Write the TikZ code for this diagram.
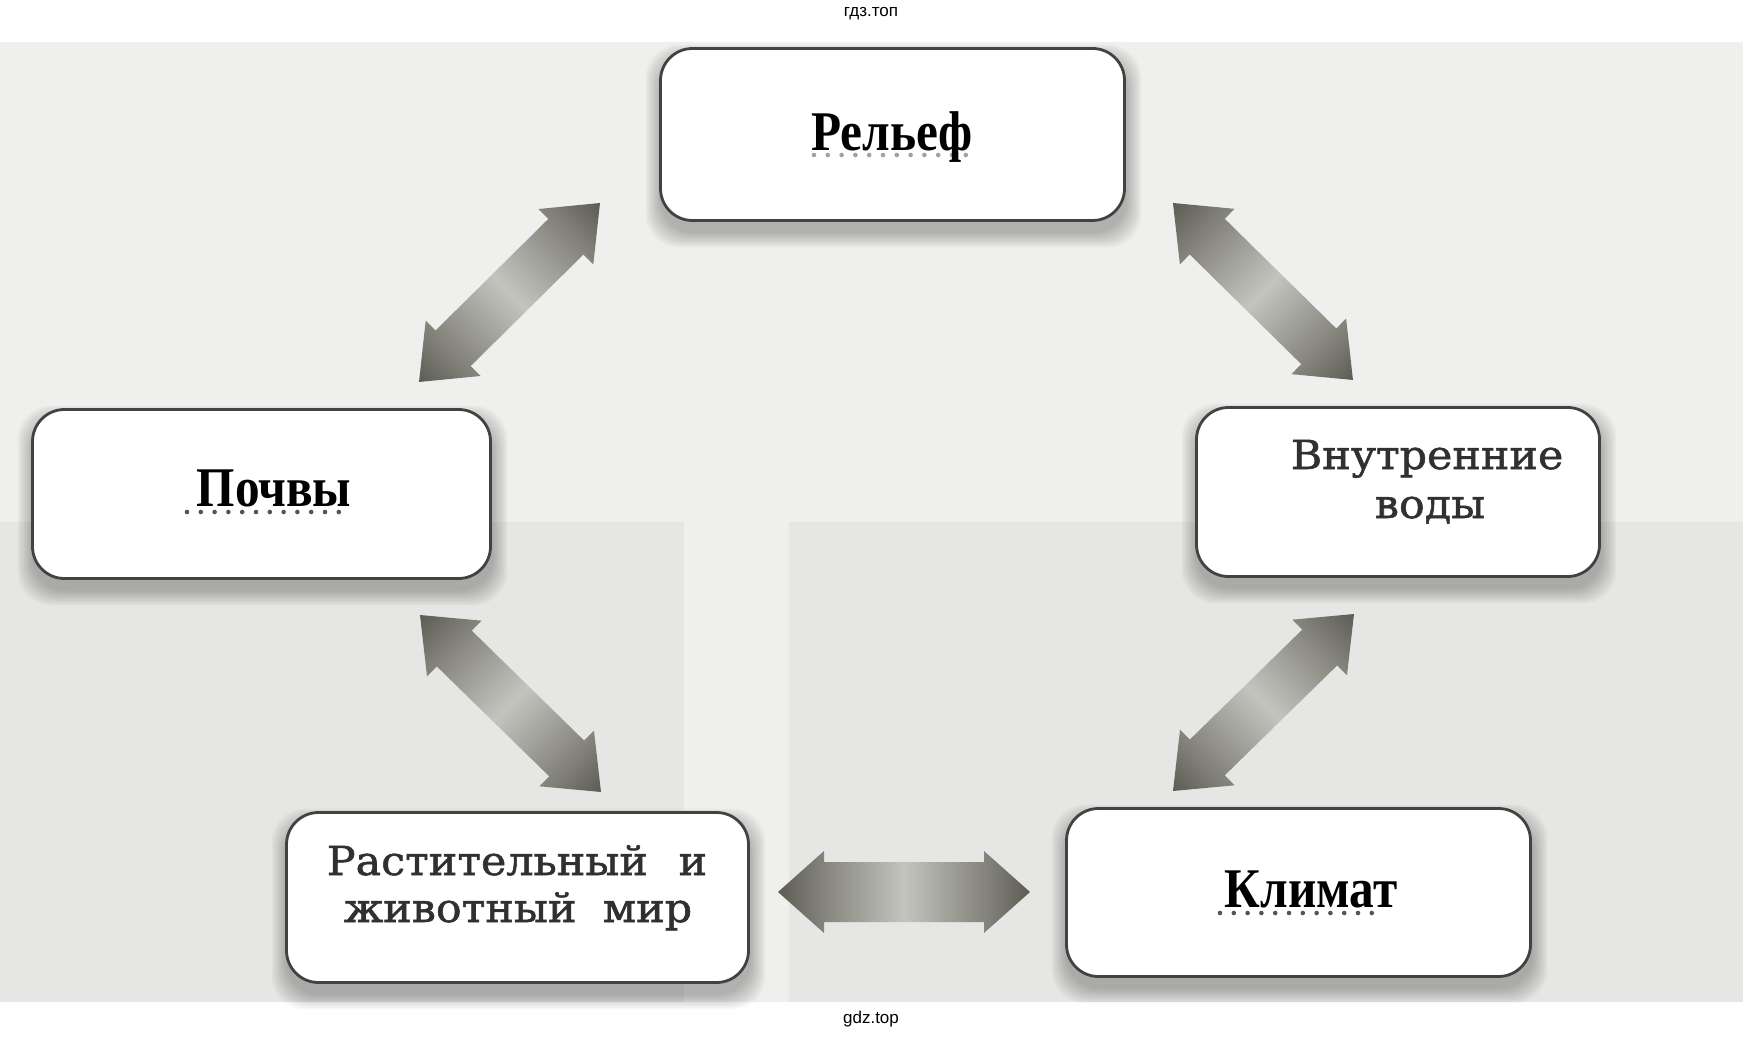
\documentclass[tikz,border=0pt]{standalone}
\usepackage{fontspec}
\usepackage{graphicx}
\setmainfont{Liberation Serif}
\newfontfamily\schoolfont{DejaVu Serif}[FakeBold=1.3]
\newfontfamily\hdrfont{Liberation Sans}
\usetikzlibrary{calc}
\definecolor{pagebg}{RGB}{239,239,237}
\definecolor{photobg}{RGB}{230,230,228}
\definecolor{boxline}{RGB}{66,66,64}
\definecolor{arrdark}{RGB}{92,92,84}
\definecolor{arrmid}{RGB}{128,128,120}
\definecolor{arrlight}{RGB}{196,196,191}
\definecolor{softtext}{RGB}{48,48,48}
\definecolor{dotgray}{RGB}{85,85,85}
\pgfdeclarehorizontalshading{arrshade}{100bp}{color(0bp)=(arrdark); color(25bp)=(arrdark); color(33bp)=(arrmid); color(50bp)=(arrlight); color(67bp)=(arrmid); color(75bp)=(arrdark); color(100bp)=(arrdark)}
\makeatletter
\newcommand\blockarrow[5]{%
  \pgfpointanchor{#1}{center}\edef\BAxa{\strip@pt\pgf@x}\edef\BAya{\strip@pt\pgf@y}%
  \pgfpointanchor{#2}{center}\edef\BAxb{\strip@pt\pgf@x}\edef\BAyb{\strip@pt\pgf@y}%
  \pgfmathsetmacro\BAlen{veclen(\BAxb-\BAxa,\BAyb-\BAya)}%
  \pgfmathsetmacro\BAang{atan2(\BAyb-\BAya,\BAxb-\BAxa)}%
  \pgfmathsetmacro\BAs{#3/2}\pgfmathsetmacro\BAh{#4/2}%
  \pgfmathsetmacro\BAhl{#5}\pgfmathsetmacro\BAe{\BAlen-#5}%
  \begin{scope}[transform canvas={shift={(\BAxa pt,\BAya pt)},rotate=\BAang}]
    \shade[shading=arrshade]
      (0pt,0pt) -- (\BAhl pt,\BAh pt) -- (\BAhl pt,\BAs pt) -- (\BAe pt,\BAs pt)
      -- (\BAe pt,\BAh pt) -- (\BAlen pt,0pt) -- (\BAe pt,-\BAh pt) -- (\BAe pt,-\BAs pt)
      -- (\BAhl pt,-\BAs pt) -- (\BAhl pt,-\BAh pt) -- cycle;
  \end{scope}
}
\makeatother
\newcommand\softshadow[4]{%
  \foreach \k in {0,...,9}{%
    \fill[black,opacity=0.026,rounded corners=34pt]
      ({#1-#3/2+1-\k*1.6},{#2-#4/2+12-\k*1.6}) rectangle ({#1+#3/2+1+\k*1.6},{#2+#4/2+11+\k*1.6});
  }%
}
\begin{document}
\begin{tikzpicture}[x=1pt,y=-1pt,
  box/.style={draw=boxline,line width=2.8pt,fill=white,rounded corners=32pt,inner sep=0pt},
  titletxt/.style={anchor=base,inner sep=0pt,font=\fontsize{56}{60}\selectfont\bfseries},
  plaintxt/.style={anchor=base,inner sep=0pt,text=softtext,font=\schoolfont\fontsize{40}{44}\selectfont},
  hdrtxt/.style={inner sep=0pt,font=\hdrfont\fontsize{17}{20}\selectfont},
  dotrow/.style={draw=dotgray,line width=4.6pt,line cap=round,dash pattern=on 0pt off 13.8pt}]
\useasboundingbox[fill=white] (0,0) rectangle (1743,1040);
% page background
\fill[pagebg] (0,42) rectangle (1743,1002);
\fill[photobg] (0,522) rectangle (684,1002);
\fill[photobg] (789,522) rectangle (1743,1002);
% header / footer
\node[hdrtxt] (hdr) at (871,14) {гдз.топ};
\node[hdrtxt] (ftr) at (871,1019) {gdz.top};
% shadows
\softshadow{892.5}{134.5}{467}{175}
\softshadow{261.5}{494}{461}{172}
\softshadow{1398}{492}{406}{172}
\softshadow{517.5}{897.5}{465}{173}
\softshadow{1298.5}{892.5}{467}{171}
% boxes
\node[box,minimum width=464pt,minimum height=172pt] (relief) at (892.5,134.5) {};
\node[box,minimum width=458pt,minimum height=169pt] (pochvy) at (261.5,494) {};
\node[box,minimum width=403pt,minimum height=169pt] (vody) at (1398,492) {};
\node[box,minimum width=462pt,minimum height=170pt] (rast) at (517.5,897.5) {};
\node[box,minimum width=464pt,minimum height=168pt] (klimat) at (1298.5,892.5) {};
% texts
\draw[dotrow,draw=dotgray!55] (814,155) -- (969,155);
\node[titletxt] (reliefT) at (892,151) {\scalebox{0.88}[1]{Рельеф}};
\draw[dotrow] (187,512) -- (339,512);
\node[titletxt] (pochvyT) at (274,506) {\scalebox{0.88}[1]{Почвы}};
\draw[dotrow] (1220,913) -- (1373,913);
\node[titletxt] (klimatT) at (1311,907) {\scalebox{0.88}[1]{Климат}};
\node[plaintxt] (vodyA) at (1427,469) {\scalebox{1.07}[1]{Внутренние}};
\node[plaintxt] (vodyB) at (1430,518) {\scalebox{1.07}[1]{воды}};
\node[plaintxt] (rastA) at (517,875) {\scalebox{1.07}[1]{Растительный\hspace{0.4em} и}};
\node[plaintxt] (rastB) at (518,922) {\scalebox{1.07}[1]{животный\hspace{0.3em} мир}};
% arrow end points
\coordinate (a1s) at (600,203);
\coordinate (a1e) at (419,382);
\coordinate (a2s) at (1173,203);
\coordinate (a2e) at (1353,380);
\coordinate (a3s) at (420,615);
\coordinate (a3e) at (601,792);
\coordinate (a4s) at (1354,614);
\coordinate (a4e) at (1173,791);
\coordinate (a5s) at (778,892);
\coordinate (a5e) at (1030,892);
\blockarrow{a1s}{a1e}{50}{78}{48}
\blockarrow{a2s}{a2e}{50}{78}{48}
\blockarrow{a3s}{a3e}{50}{78}{48}
\blockarrow{a4s}{a4e}{50}{78}{48}
\blockarrow{a5s}{a5e}{60}{82}{46}
\end{tikzpicture}
\end{document}
